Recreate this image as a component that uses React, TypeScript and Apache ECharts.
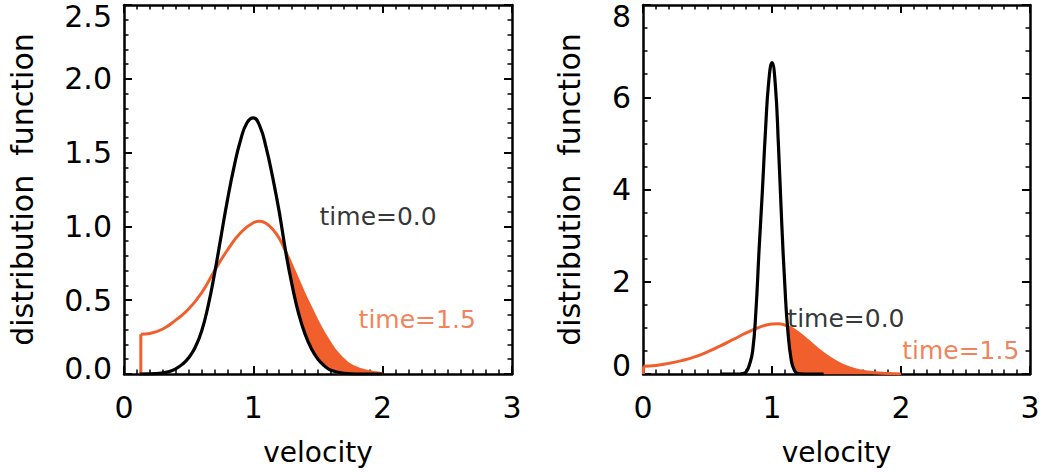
import React, { useEffect, useRef } from 'react';
import * as echarts from 'echarts';

const ORANGE = '#F15F2C';
const FONT = 'DejaVu Sans';

// ---------- left panel data ----------
const leftBlackV = [0.12, 0.25, 0.30, 0.35, 0.40, 0.45, 0.50, 0.55, 0.60, 0.65, 0.70, 0.75, 0.80, 0.85, 0.90, 0.95, 1.00, 1.05, 1.10, 1.15, 1.20, 1.25, 1.30, 1.35, 1.40, 1.45, 1.50, 1.55, 1.60, 1.70, 1.80, 1.90, 2.00];
const leftBlackF = [0.0, 0.003, 0.008, 0.017, 0.035, 0.065, 0.11, 0.18, 0.29, 0.46, 0.68, 0.93, 1.18, 1.40, 1.58, 1.70, 1.735, 1.68, 1.53, 1.33, 1.10, 0.83, 0.60, 0.41, 0.27, 0.17, 0.10, 0.055, 0.025, 0.005, 0, 0, 0];

// first two points form the vertical jump at the left end
const leftOrangeV = [0.13, 0.13, 0.20, 0.30, 0.40, 0.50, 0.60, 0.70, 0.80, 0.90, 1.00, 1.05, 1.10, 1.15, 1.20, 1.25, 1.30, 1.35, 1.40, 1.45, 1.50, 1.55, 1.60, 1.65, 1.70, 1.75, 1.80, 1.85, 1.90, 1.95, 2.00];
const leftOrangeF = [0, 0.27, 0.275, 0.305, 0.365, 0.44, 0.55, 0.70, 0.84, 0.955, 1.025, 1.035, 1.02, 0.98, 0.92, 0.83, 0.73, 0.63, 0.53, 0.44, 0.35, 0.27, 0.20, 0.14, 0.095, 0.06, 0.04, 0.025, 0.015, 0.008, 0.0];

const leftFillV = [1.25, 1.30, 1.35, 1.40, 1.45, 1.50, 1.55, 1.60, 1.65, 1.70, 1.75, 1.80, 1.85, 1.90, 1.95, 2.00];

const leftYTicks = ['0.0', '0.5', '1.0', '1.5', '2.0', '2.5'];
const leftNotes = ['time=0.0', 'time=1.5'];
const leftNoteV = [1.508, 1.81];
const leftNoteF = [1.066, 0.368];

// ---------- right panel data ----------
const rightBlackV = [0.60, 0.70, 0.75, 0.775, 0.80, 0.825, 0.85, 0.875, 0.90, 0.925, 0.95, 0.975, 1.00, 1.025, 1.05, 1.075, 1.10, 1.12, 1.15, 1.175, 1.20, 1.25, 1.30, 1.40];
const rightBlackF = [0, 0, 0.0, 0.01, 0.05, 0.2, 0.5, 1.35, 2.7, 3.95, 5.3, 6.35, 6.75, 6.3, 4.95, 3.3, 1.9, 1.03, 0.28, 0.07, 0.01, 0, 0, 0];

const rightOrangeV = [0.003, 0.003, 0.10, 0.20, 0.30, 0.40, 0.50, 0.60, 0.70, 0.80, 0.90, 1.00, 1.05, 1.10, 1.12, 1.15, 1.175, 1.20, 1.25, 1.30, 1.40, 1.50, 1.60, 1.70, 1.80, 1.90, 2.00];
const rightOrangeF = [0, 0.17, 0.185, 0.23, 0.29, 0.37, 0.48, 0.61, 0.75, 0.89, 1.01, 1.085, 1.09, 1.06, 1.035, 0.99, 0.95, 0.90, 0.79, 0.67, 0.44, 0.26, 0.13, 0.06, 0.025, 0.01, 0.0];

const rightFillV = [1.12, 1.15, 1.175, 1.20, 1.25, 1.30, 1.40, 1.50, 1.60, 1.70, 1.80, 1.90, 2.00];

const rightYTicks = ['0', '2', '4', '6', '8'];
const rightNotes = ['time=0.0', 'time=1.5'];
const rightNoteV = [1.115, 2.005];
const rightNoteF = [1.196, 0.5];

const xTicks = ['0', '1', '2', '3'];
const noteColors = ['#000000', ORANGE];

const lookup = (xs: number[], ys: number[], x: number) => {
  let idx = -1;
  xs.forEach((v, i) => {
    if (Math.abs(v - x) < 1e-9) idx = i;
  });
  return idx >= 0 ? ys[idx] : 0;
};
const pairs = (xs: number[], ys: number[]) => xs.map((v, i) => [v, ys[i]]);

function buildPanel(g: number, cfg: any) {
  const labelStyle = { fontSize: 30, fontFamily: FONT, color: '#000' };
  const lineStyle = { color: '#000', width: 2.5 };
  const tick = { show: true, inside: true, length: 8, lineStyle: { color: '#000', width: 2 } };
  const xMinor = { show: true, splitNumber: 10, length: 4.5, lineStyle: { color: '#000', width: 1.5 } };
  const yMinor = { show: true, splitNumber: cfg.yMinorSplit, length: 4.5, lineStyle: { color: '#000', width: 1.5 } };
  const yMax = cfg.yTicks.length - 1;
  const xAxes = [
    {
      gridIndex: g, type: 'value', position: 'bottom', min: 0, max: 3, interval: 1,
      axisLine: { show: true, onZero: false, lineStyle },
      axisTick: tick, minorTick: xMinor,
      splitLine: { show: false }, minorSplitLine: { show: false },
      axisLabel: { ...labelStyle, margin: 18, formatter: (v: number) => xTicks[Math.round(v)] },
      name: 'velocity', nameLocation: 'middle', nameGap: 64,
      nameTextStyle: { fontSize: 28, fontFamily: FONT, color: '#000' },
    },
    {
      gridIndex: g, type: 'value', position: 'top', min: 0, max: 3, interval: 1,
      axisLine: { show: true, onZero: false, lineStyle },
      axisTick: tick, minorTick: xMinor,
      splitLine: { show: false }, minorSplitLine: { show: false },
      axisLabel: { show: false },
    },
  ];
  const yAxes = [
    {
      gridIndex: g, type: 'value', position: 'left', min: 0, max: cfg.yTop, interval: cfg.yInterval,
      axisLine: { show: true, onZero: false, lineStyle },
      axisTick: tick, minorTick: yMinor,
      splitLine: { show: false }, minorSplitLine: { show: false },
      axisLabel: {
        ...labelStyle, margin: 12,
        formatter: (v: number) => {
          const i = Math.round(v / cfg.yInterval);
          const s = cfg.yTicks[i];
          if (i === 0) return `{lo|${s}}`;
          if (i === yMax) return `{hi|${s}}`;
          return s;
        },
        rich: {
          lo: { ...labelStyle, padding: [0, 0, cfg.loPad, 0] },
          hi: { ...labelStyle, padding: [22, 0, 0, 0] },
        },
      },
      name: 'distribution\u00a0\u00a0function', nameLocation: 'middle', nameGap: cfg.yNameGap,
      nameTextStyle: { fontSize: 30, fontFamily: FONT, color: '#000' },
    },
    {
      gridIndex: g, type: 'value', position: 'right', min: 0, max: cfg.yTop, interval: cfg.yInterval,
      axisLine: { show: true, onZero: false, lineStyle },
      axisTick: tick, minorTick: yMinor,
      splitLine: { show: false }, minorSplitLine: { show: false },
      axisLabel: { show: false },
    },
  ];
  const xi = 2 * g;
  const yi = 2 * g;
  const common = { xAxisIndex: xi, yAxisIndex: yi, silent: true, symbol: 'none' };
  const series: any[] = [
    {
      type: 'custom', xAxisIndex: xi, yAxisIndex: yi, silent: true, z: 1,
      data: [[cfg.fillV[0], 0]],
      renderItem: (_params: any, api: any) => {
        const top = cfg.fillV.map((v: number) => api.coord([v, lookup(cfg.orangeV, cfg.orangeF, v)]));
        const bottom = cfg.fillV
          .slice()
          .reverse()
          .map((v: number) => api.coord([v, lookup(cfg.blackV, cfg.blackF, v)]));
        return {
          type: 'polygon',
          shape: { points: [...top, ...bottom] },
          style: { fill: ORANGE, stroke: ORANGE, lineWidth: 0.5 },
        };
      },
    },
    {
      ...common, type: 'line', data: pairs(cfg.orangeV.slice(0, 2), cfg.orangeF.slice(0, 2)),
      lineStyle: { color: ORANGE, width: 3 }, z: 2,
    },
    {
      ...common, type: 'line', data: pairs(cfg.orangeV.slice(1), cfg.orangeF.slice(1)), smooth: 0.5,
      lineStyle: { color: ORANGE, width: 3 }, z: 2,
    },
    {
      ...common, type: 'line', data: pairs(cfg.blackV, cfg.blackF), smooth: 0.5,
      lineStyle: { color: '#000', width: 3.2 }, z: 3,
    },
  ];
  cfg.notes.forEach((t: string, i: number) => {
    series.push({
      type: 'scatter', xAxisIndex: xi, yAxisIndex: yi, silent: true, z: 5,
      symbolSize: 1, itemStyle: { color: 'rgba(0,0,0,0)' },
      data: [[cfg.noteV[i], cfg.noteF[i]]],
      label: {
        show: true, position: 'right', distance: 0, formatter: t,
        fontSize: 25, fontFamily: FONT, color: noteColors[i],
      },
    });
  });
  return { xAxes, yAxes, series };
}

export default function App() {
  const ref = useRef<HTMLDivElement>(null);
  useEffect(() => {
    if (!ref.current) return;
    document.body.style.margin = '0';
    const chart = echarts.init(ref.current, undefined, { renderer: 'svg' });
    const L = buildPanel(0, {
      yTop: 2.5, yInterval: 0.5, yMinorSplit: 5, yTicks: leftYTicks, loPad: 12, yNameGap: 87,
      blackV: leftBlackV, blackF: leftBlackF, orangeV: leftOrangeV, orangeF: leftOrangeF,
      fillV: leftFillV, notes: leftNotes, noteV: leftNoteV, noteF: leftNoteF,
    });
    const R = buildPanel(1, {
      yTop: 8, yInterval: 2, yMinorSplit: 4, yTicks: rightYTicks, loPad: 18, yNameGap: 59,
      blackV: rightBlackV, blackF: rightBlackF, orangeV: rightOrangeV, orangeF: rightOrangeF,
      fillV: rightFillV, notes: rightNotes, noteV: rightNoteV, noteF: rightNoteF,
    });
    chart.setOption({
      animation: false,
      backgroundColor: '#ffffff',
      grid: [
        { left: 124, top: 5, width: 388, height: 369, containLabel: false },
        { left: 643, top: 5, width: 387, height: 369, containLabel: false },
      ],
      xAxis: [...L.xAxes, ...R.xAxes],
      yAxis: [...L.yAxes, ...R.yAxes],
      series: [...L.series, ...R.series],
    });
    return () => chart.dispose();
  }, []);
  return (
    <div
      ref={ref}
      style={{ position: 'fixed', left: 0, top: 0, width: 1043, height: 472, background: '#fff' }}
    />
  );
}
